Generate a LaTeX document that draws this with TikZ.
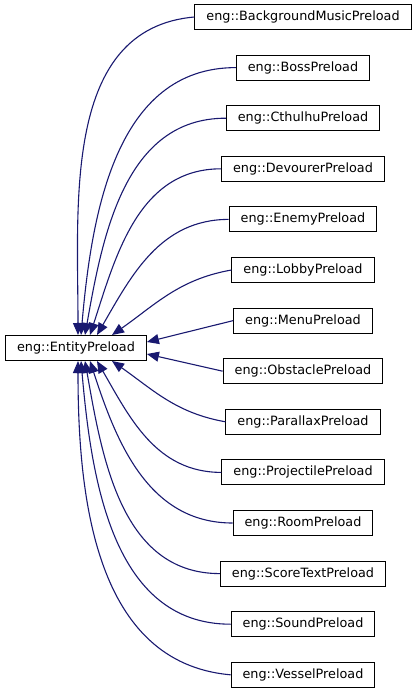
\documentclass[tikz,border=0pt]{standalone}
\usepackage{fontspec}
\setmainfont{DejaVu Sans}
\usetikzlibrary{arrows.meta,positioning,calc}
\definecolor{EdgeBlue}{HTML}{191970}

\begin{document}
\begin{tikzpicture}[x=1pt,y=-1pt, every node/.style={font=\fontsize{12.8}{15}\selectfont,draw,line width=1pt,minimum height=25pt,inner xsep=11.5pt,fill=white}]
    \useasboundingbox (0,0) rectangle (419,696);
    \node (ep) at (76,348) {eng::EntityPreload};
    \foreach \n/\t [count=\i from 0] in {bgm/BackgroundMusic,boss/Boss,cthulhu/Cthulhu,devourer/Devourer,enemy/Enemy,lobby/Lobby,menu/Menu,obstacle/Obstacle,parallax/Parallax,projectile/Projectile,room/Room,score/ScoreText,sound/Sound,vessel/Vessel}{\node (\n) at (303,{17+50.6*\i}) {eng::\t Preload};}
    \foreach \n/\dx/\a/\b in {bgm/2/185/90,boss/5/180/85,cthulhu/9/180/80,devourer/14/180/72,enemy/21/180/60,lobby/36/190/35}{\draw[-{Triangle[length=12pt,width=10pt]},EdgeBlue,line width=1.1pt] (\n.west) to[out=\a,in=\b] ([xshift=\dx pt]ep.north);}
    \foreach \n/\dx/\a/\b in {vessel/2/175/-90,sound/5/180/-85,score/9/180/-80,room/14/180/-72,projectile/21/180/-60,parallax/36/170/-35}{\draw[-{Triangle[length=12pt,width=10pt]},EdgeBlue,line width=1.1pt] (\n.west) to[out=\a,in=\b] ([xshift=\dx pt]ep.south);}
    \draw[-{Triangle[length=12pt,width=10pt]},EdgeBlue,line width=1.1pt] (menu.west) -- ([yshift=6pt]ep.east);
    \draw[-{Triangle[length=12pt,width=10pt]},EdgeBlue,line width=1.1pt] (obstacle.west) -- ([yshift=-6pt]ep.east);
\end{tikzpicture}
\end{document}
